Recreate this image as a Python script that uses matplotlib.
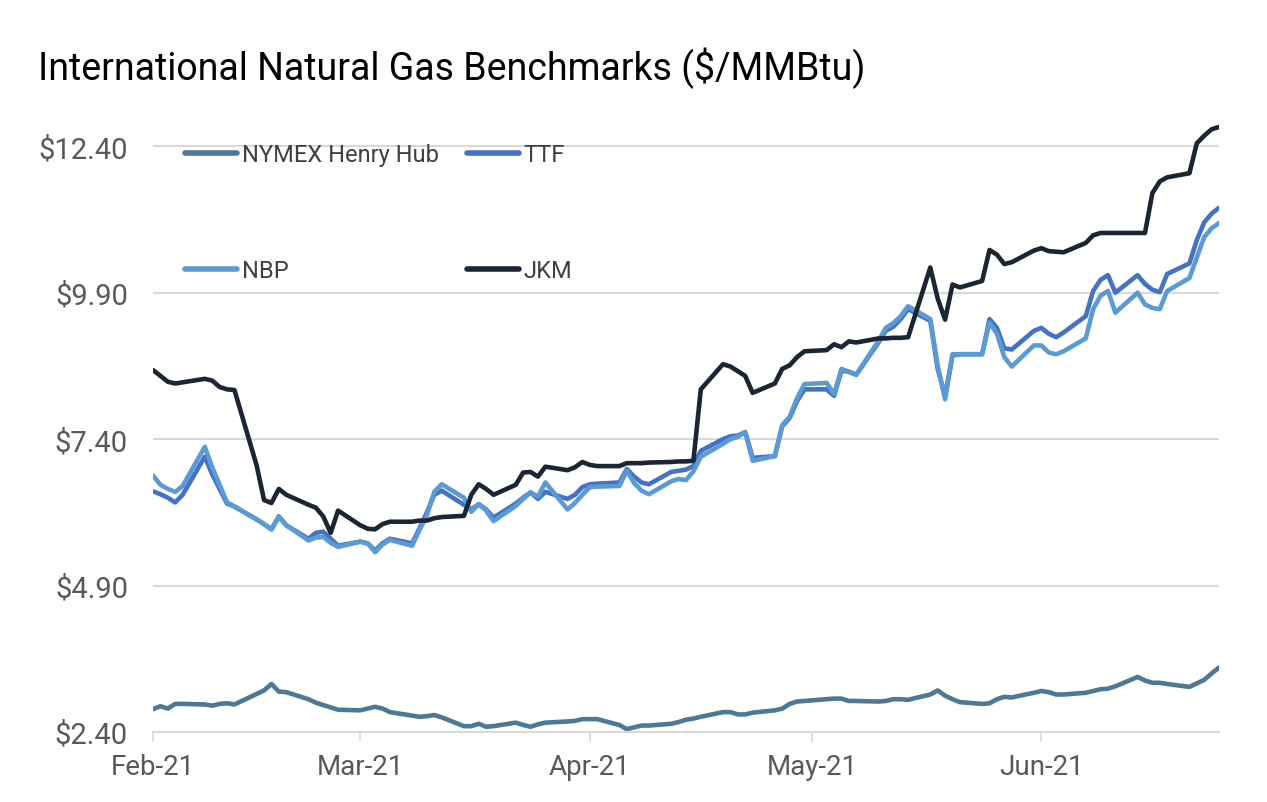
import numpy as np
import pandas as pd
import matplotlib
matplotlib.use('Agg')
import matplotlib.pyplot as plt
import matplotlib.dates as mdates
from matplotlib.ticker import FuncFormatter

plt.rcParams['font.family'] = ['Roboto', 'DejaVu Sans']

# trading days, Feb 1 - Jun 25 2021
dates = pd.bdate_range('2021-02-01', '2021-06-25')

henry_hub = [2.79, 2.84, 2.80, 2.88, 2.88, 2.87, 2.85, 2.88, 2.89, 2.87, 3.05, 3.11, 3.22, 3.09, 3.08, 2.96, 2.90, 2.86, 2.82, 2.78,
             2.77, 2.80, 2.83, 2.80, 2.74, 2.68, 2.66, 2.67, 2.69, 2.65, 2.50, 2.50, 2.54, 2.49, 2.50, 2.56, 2.52, 2.49, 2.53, 2.56, 2.58, 2.59, 2.62,
             2.62, 2.62, 2.52, 2.45, 2.48, 2.51, 2.51, 2.54, 2.57, 2.61, 2.63, 2.66, 2.74, 2.74, 2.70, 2.70, 2.73, 2.77, 2.80, 2.88, 2.92, 2.93,
             2.96, 2.97, 2.97, 2.93, 2.93, 2.92, 2.93, 2.96, 2.96, 2.95, 3.04, 3.11, 3.02, 2.96, 2.91, 2.88, 2.89, 2.96, 3.00, 2.99, 3.07,
             3.10, 3.08, 3.04, 3.04, 3.07, 3.10, 3.13, 3.14, 3.18, 3.34, 3.28, 3.24, 3.24, 3.22, 3.17, 3.23, 3.29, 3.40, 3.50]

ttf = [6.51, 6.46, 6.40, 6.32, 6.45, 7.10, 6.80, 6.55, 6.30, 6.25, 6.03, 5.95, 5.86, 6.08, 5.93, 5.70, 5.80, 5.82, 5.70, 5.58,
       5.65, 5.62, 5.50, 5.62, 5.70, 5.62, 5.88, 6.15, 6.45, 6.52, 6.28, 6.20, 6.29, 6.20, 6.06, 6.30, 6.40, 6.49, 6.38, 6.50, 6.38, 6.45, 6.58,
       6.63, 6.64, 6.66, 6.89, 6.76, 6.66, 6.63, 6.84, 6.86, 6.88, 6.94, 7.20, 7.40, 7.45, 7.46, 7.52, 7.08, 7.11, 7.62, 7.76, 8.05, 8.25,
       8.25, 8.14, 8.57, 8.55, 8.50, 9.05, 9.25, 9.32, 9.45, 9.62, 9.42, 8.60, 8.14, 8.83, 8.85, 8.85, 9.45, 9.30, 8.95, 8.93, 9.25,
       9.30, 9.20, 9.14, 9.22, 9.50, 9.93, 10.12, 10.20, 9.90, 10.20, 10.05, 9.95, 9.91, 10.22, 10.40, 10.80, 11.10, 11.25, 11.35]

nbp = [6.78, 6.62, 6.55, 6.50, 6.60, 7.27, 6.92, 6.62, 6.32, 6.25, 6.03, 5.95, 5.86, 6.08, 5.93, 5.67, 5.72, 5.73, 5.63, 5.56,
       5.65, 5.62, 5.47, 5.60, 5.68, 5.58, 5.85, 6.10, 6.50, 6.63, 6.40, 6.16, 6.29, 6.18, 6.00, 6.26, 6.38, 6.49, 6.42, 6.66, 6.20, 6.31, 6.45,
       6.58, 6.59, 6.60, 6.86, 6.65, 6.52, 6.46, 6.68, 6.72, 6.70, 6.85, 7.10, 7.32, 7.40, 7.44, 7.52, 7.03, 7.11, 7.64, 7.78, 8.10, 8.34,
       8.36, 8.17, 8.60, 8.55, 8.50, 9.08, 9.30, 9.38, 9.50, 9.67, 9.45, 8.65, 8.08, 8.85, 8.85, 8.85, 9.39, 9.20, 8.80, 8.64, 9.00,
       9.00, 8.88, 8.85, 8.90, 9.12, 9.62, 9.85, 9.93, 9.56, 9.90, 9.70, 9.64, 9.62, 9.93, 10.15, 10.50, 10.85, 11.00, 11.09]

jkm = [8.58, 8.48, 8.38, 8.35, 8.37, 8.43, 8.40, 8.29, 8.25, 8.24, 6.95, 6.36, 6.31, 6.55, 6.45, 6.28, 6.23, 6.08, 5.80, 6.18,
       5.93, 5.87, 5.86, 5.95, 5.99, 5.99, 6.01, 6.01, 6.05, 6.07, 6.09, 6.45, 6.63, 6.55, 6.45, 6.62, 6.83, 6.84, 6.76, 6.93, 6.87, 6.92, 7.01,
       6.96, 6.94, 6.94, 6.99, 6.99, 6.99, 7.00, 7.01, 7.02, 7.02, 7.03, 8.25, 8.68, 8.64, 8.56, 8.48, 8.19, 8.35, 8.60, 8.66, 8.80, 8.90,
       8.92, 9.02, 8.97, 9.07, 9.05, 9.12, 9.12, 9.13, 9.13, 9.14, 10.33, 9.80, 9.44, 10.04, 9.99, 10.10, 10.63, 10.55, 10.39, 10.42, 10.62,
       10.66, 10.61, 10.60, 10.59, 10.75, 10.88, 10.92, 10.92, 10.92, 10.92, 10.92, 11.60, 11.80, 11.87, 11.94, 12.45, 12.58, 12.69, 12.73]

y_ticks = [2.40, 4.90, 7.40, 9.90, 12.40]

fig = plt.figure(figsize=(12.67, 8.03), dpi=100)
ax = fig.add_axes([153/1267, 1 - 733/803, (1219 - 153)/1267, (733 - 118)/803])

l_hh, = ax.plot(dates, henry_hub, color='#4D7896', lw=3.3, label='NYMEX Henry Hub', solid_capstyle='round')
l_ttf, = ax.plot(dates, ttf, color='#4472C4', lw=3.3, label='TTF', solid_capstyle='round')
l_nbp, = ax.plot(dates, nbp, color='#5B9BD5', lw=3.3, label='NBP', solid_capstyle='round')
l_jkm, = ax.plot(dates, jkm, color='#1C2533', lw=3.3, label='JKM', solid_capstyle='round')

ax.set_ylim(2.40, 12.9)
ax.set_xlim(pd.Timestamp('2021-02-01'), pd.Timestamp('2021-06-25'))
ax.set_yticks(y_ticks)
ax.yaxis.set_major_formatter(FuncFormatter(lambda v, p: f'${v:.2f}'))
ax.xaxis.set_major_locator(mdates.MonthLocator())
ax.xaxis.set_major_formatter(mdates.DateFormatter('%b-%y'))

ax.grid(axis='y', color='#D9D9D9', lw=1.5)
ax.set_axisbelow(True)
for s in ['top', 'right', 'left']:
    ax.spines[s].set_visible(False)
ax.spines['bottom'].set_color('#D9D9D9')
ax.spines['bottom'].set_linewidth(1.5)
ax.tick_params(axis='y', length=0, pad=18, labelsize=21, labelcolor='#595959')
ax.tick_params(axis='x', length=7, width=1.2, color='#D9D9D9', pad=8, labelsize=20, labelcolor='#595959')

fig.text(38/1267, 1 - 68/803, 'International Natural Gas Benchmarks ($/MMBtu)',
         fontsize=27, color='black', va='center', ha='left')

# legend fills column-wise: HH, NBP in col 1; TTF, JKM in col 2
leg = ax.legend([l_hh, l_nbp, l_ttf, l_jkm], ['NYMEX Henry Hub', 'NBP', 'TTF', 'JKM'],
                loc='upper left', bbox_to_anchor=(185/1267, 1 - 144/803), bbox_transform=fig.transFigure,
                ncol=2, frameon=False, fontsize=17, handlelength=2.2, handletextpad=0.2,
                columnspacing=1.2, labelspacing=3.95, borderpad=0, borderaxespad=0)
for t in leg.get_texts():
    t.set_color('#404040')
for h in leg.get_lines():
    h.set_linewidth(4)

fig.savefig('out.png', dpi=100)
